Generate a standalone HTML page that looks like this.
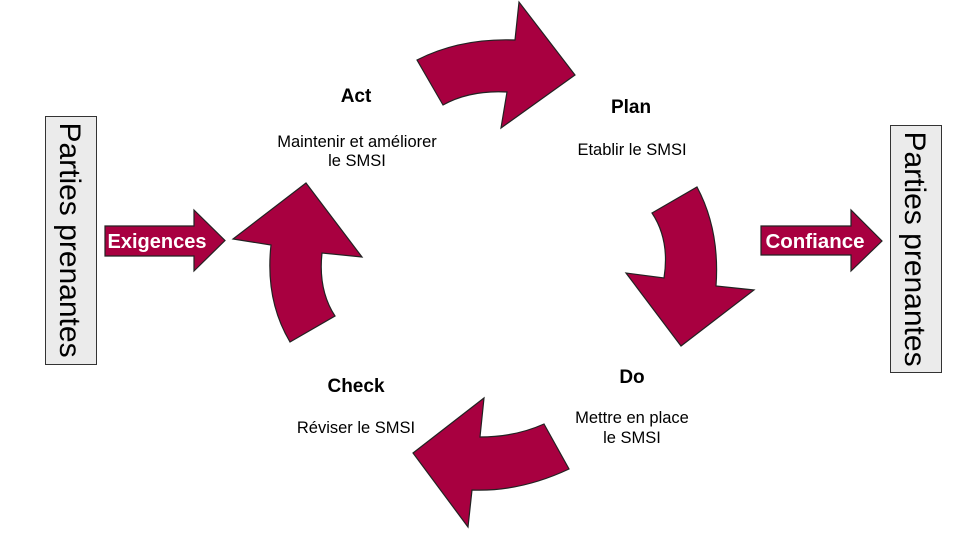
<!DOCTYPE html>
<html><head><meta charset="utf-8"><style>
body{margin:0;background:#fff;}
svg{display:block;}
</style></head><body>
<svg width="971" height="540" viewBox="0 0 971 540" xmlns="http://www.w3.org/2000/svg" font-family="Liberation Sans, Arial, sans-serif">
<g fill="#a80040" stroke="#222" stroke-width="1.2" stroke-linejoin="miter">
<path d="M417,60 Q460,38 515,40 L519,2 L575,75 L501,128 L507,92 Q470,90 443,105 Z"/>
<path d="M652,213 L697,187 Q720,230 716,286 L754,290 L681,346 L626,273 L664,278 Q670,240 652,213 Z"/>
<path d="M544,424 L569,469 Q520,492 472,490 L468,527 L413,453 L484,398 L480,437 Q515,437 544,424 Z"/>
<path d="M290,342 L335,316 Q318,290 322,253 L362,257 L306,183 L233,239 L271,245 Q265,300 290,342 Z"/>
<path d="M105,226 L194,226 L194,210 L225,240.5 L194,271 L194,256 L105,256 Z"/>
<path d="M761,226 L851,226 L851,210 L882,241 L851,271 L851,255 L761,255 Z"/>
</g>
<text x="157" y="248" font-size="20" font-weight="bold" fill="#fff" text-anchor="middle">Exigences</text>
<text x="815" y="248" font-size="20.5" font-weight="bold" fill="#fff" text-anchor="middle">Confiance</text>
<rect x="45.5" y="116.5" width="51" height="248" fill="#ebebeb" stroke="#333"/>
<rect x="890.5" y="125.5" width="51" height="247" fill="#ebebeb" stroke="#333"/>
<text transform="translate(60,240) rotate(90)" font-size="30" text-anchor="middle" fill="#000">Parties prenantes</text>
<text transform="translate(905,249) rotate(90)" font-size="30" text-anchor="middle" fill="#000">Parties prenantes</text>
<g text-anchor="middle" fill="#000">
<text x="356" y="102" font-size="19" font-weight="bold">Act</text>
<text x="357" y="147" font-size="16.5">Maintenir et améliorer</text>
<text x="357" y="166" font-size="16.5">le SMSI</text>
<text x="631" y="113" font-size="19" font-weight="bold">Plan</text>
<text x="632" y="155" font-size="16.5">Etablir le SMSI</text>
<text x="632" y="383" font-size="19" font-weight="bold">Do</text>
<text x="632" y="423" font-size="16.5">Mettre en place</text>
<text x="632" y="443" font-size="16.5">le SMSI</text>
<text x="356" y="392" font-size="19" font-weight="bold">Check</text>
<text x="356" y="433" font-size="16.5">Réviser le SMSI</text>
</g>
</svg>
</body></html>
